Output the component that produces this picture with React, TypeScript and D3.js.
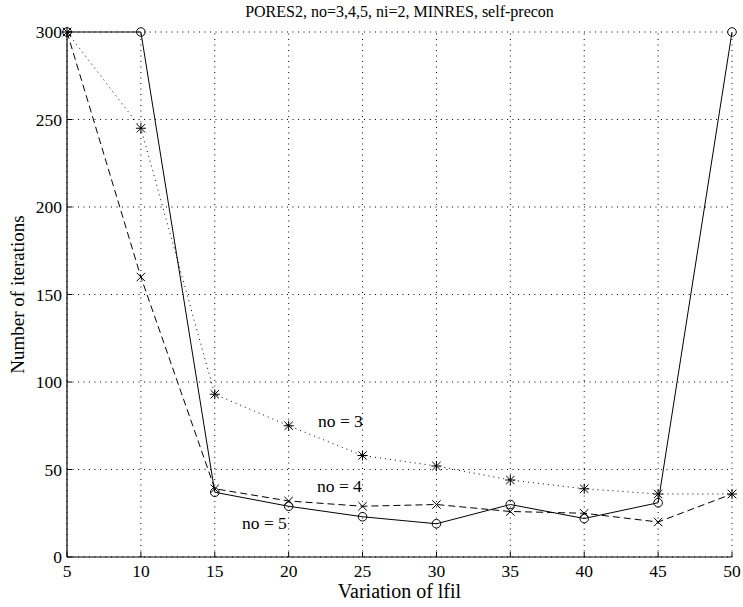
import React from "react";
import * as d3 from "d3";

const lfil = [5, 10, 15, 20, 25, 30, 35, 40, 45, 50];
const iterNo3 = [300, 245, 93, 75, 58, 52, 44, 39, 36, 36];
const iterNo4 = [300, 160, 39, 32, 29, 30, 26, 25, 20, 36];
const iterNo5 = [300, 300, 37, 29, 23, 19, 30, 22, 31, 300];
const xTicks = [5, 10, 15, 20, 25, 30, 35, 40, 45, 50];
const yTicks = [0, 50, 100, 150, 200, 250, 300];

const W = 743;
const H = 607;
const margin = { left: 67, right: 11, top: 32, bottom: 50 };
const FONT = '"Liberation Serif", "Times New Roman", Times, "DejaVu Serif", serif';

function Marker({ kind, x, y }: { kind: string; x: number; y: number }) {
  const s = 4.2;
  if (kind === "o") {
    return <circle cx={x} cy={y} r={4.3} fill="none" stroke="#000" strokeWidth={1} />;
  }
  const cross = `M${x - s},${y - s}L${x + s},${y + s}M${x - s},${y + s}L${x + s},${y - s}`;
  if (kind === "x") {
    return <path d={cross} stroke="#000" strokeWidth={1} fill="none" />;
  }
  const plus = `M${x},${y - s * 1.2}L${x},${y + s * 1.2}M${x - s * 1.2},${y}L${x + s * 1.2},${y}`;
  return <path d={cross + plus} stroke="#000" strokeWidth={1} fill="none" />;
}

export default function App() {
  const x = d3.scaleLinear().domain([5, 50]).range([margin.left, W - margin.right]);
  const y = d3.scaleLinear().domain([0, 300]).range([H - margin.bottom, margin.top]);
  const line = (vals: number[]) =>
    d3.line<number>().x((_, i) => x(lfil[i])).y((v) => y(v))(vals) || "";

  const series = [
    { vals: iterNo3, dash: "1 4", marker: "*" },
    { vals: iterNo4, dash: "7 4", marker: "x" },
    { vals: iterNo5, dash: "", marker: "o" },
  ];

  const x0 = x(5);
  const x1 = x(50);
  const y0 = y(0);
  const y1 = y(300);
  const textStyle = { fontFamily: FONT };

  return (
    <svg width={W} height={H} style={{ position: "absolute", left: 0, top: 0, background: "#fff", fontFamily: FONT }}>
      <rect width={W} height={H} fill="#fff" />
      {/* dotted grid */}
      {xTicks.map((t) => (
        <line key={"gx" + t} x1={x(t)} x2={x(t)} y1={y0} y2={y1} stroke="#000" strokeWidth={1} strokeDasharray="1 4.5" />
      ))}
      {yTicks.map((t) => (
        <line key={"gy" + t} x1={x0} x2={x1} y1={y(t)} y2={y(t)} stroke="#000" strokeWidth={1} strokeDasharray="1 4.5" />
      ))}
      {/* axes */}
      <line x1={x0} x2={x1} y1={y0} y2={y0} stroke="#000" strokeWidth={1.2} />
      <line x1={x0} x2={x0} y1={y0} y2={y1} stroke="#000" strokeWidth={1.2} />
      {xTicks.map((t) => (
        <g key={"tx" + t}>
          <line x1={x(t)} x2={x(t)} y1={y0} y2={y0 - 5} stroke="#000" />
          <text x={x(t)} y={y0 + 20} textAnchor="middle" fontSize={17.5} style={textStyle}>
            {t}
          </text>
        </g>
      ))}
      {yTicks.map((t) => (
        <g key={"ty" + t}>
          <line x1={x0} x2={x0 + 5} y1={y(t)} y2={y(t)} stroke="#000" />
          <text x={x0 - 5} y={y(t) + 6} textAnchor="end" fontSize={17.5} style={textStyle}>
            {t}
          </text>
        </g>
      ))}
      {/* series */}
      {series.map((s, i) => (
        <g key={"s" + i}>
          <path d={line(s.vals)} fill="none" stroke="#000" strokeWidth={1} strokeDasharray={s.dash || undefined} />
          {s.vals.map((v, j) => (
            <Marker key={j} kind={s.marker} x={x(lfil[j])} y={y(v)} />
          ))}
        </g>
      ))}
      {/* annotations */}
      <text x={318} y={427} fontSize={17.5} style={textStyle}>no = 3</text>
      <text x={317} y={492} fontSize={17.5} style={textStyle}>no = 4</text>
      <text x={242} y={529} fontSize={17.5} style={textStyle}>no = 5</text>
      {/* title and labels */}
      <text x={(x0 + x1) / 2} y={17} textAnchor="middle" fontSize={16} style={textStyle}>
        PORES2, no=3,4,5, ni=2, MINRES, self-precon
      </text>
      <text x={(x0 + x1) / 2} y={598} textAnchor="middle" fontSize={20} style={textStyle}>
        Variation of lfil
      </text>
      <text transform={`translate(24,${(y0 + y1) / 2}) rotate(-90)`} textAnchor="middle" fontSize={19} style={textStyle}>
        Number of iterations
      </text>
    </svg>
  );
}
